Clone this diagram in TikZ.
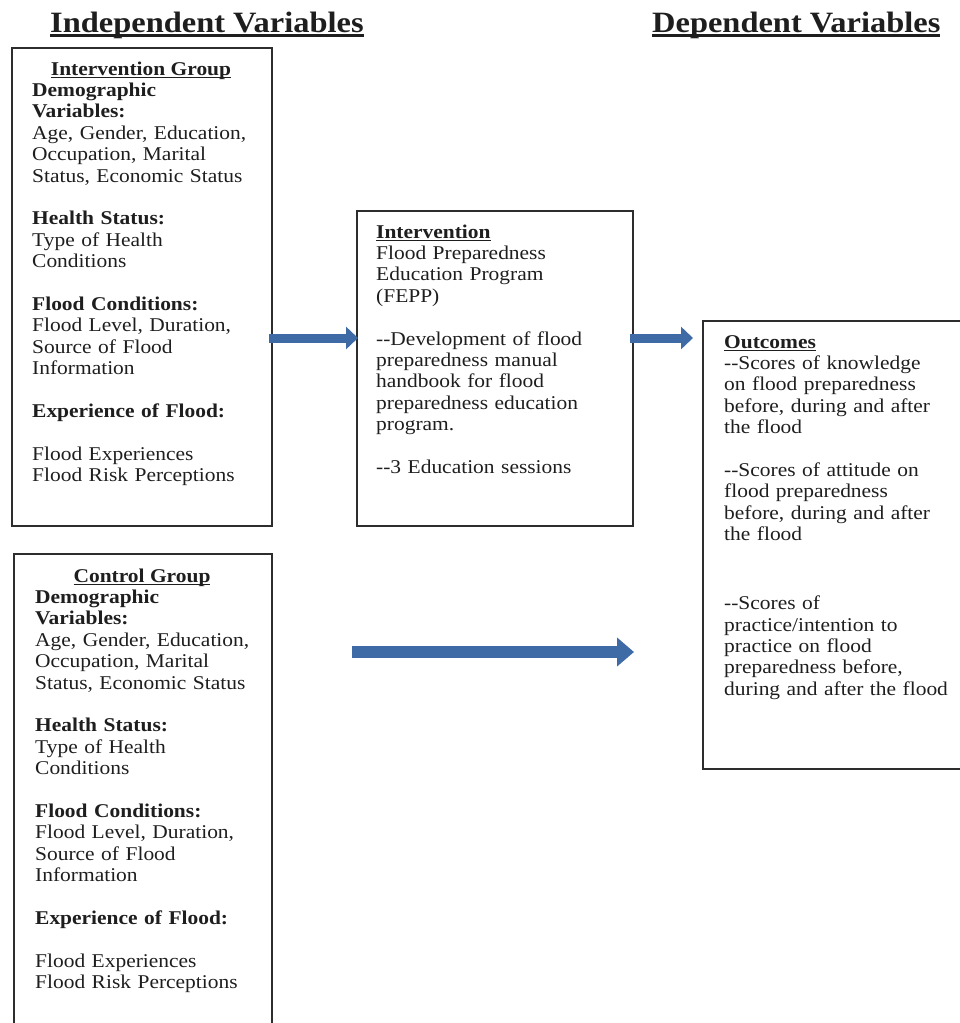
\documentclass[tikz,border=0pt]{standalone}
\usepackage{fontspec}
\setmainfont{Liberation Serif}[FakeStretch=1.1]
\usetikzlibrary{arrows.meta}
\definecolor{arrowblue}{RGB}{62,106,166}
\definecolor{boxline}{RGB}{45,45,45}
\definecolor{txtcol}{RGB}{30,30,30}
\newsavebox\ulsavebox
\newcommand{\ulrule}[3]{\sbox\ulsavebox{#3}\rlap{\rule[-#1]{\wd\ulsavebox}{#2}}\usebox\ulsavebox}
\newcommand{\headul}[1]{\textbf{\ulrule{3.2pt}{1.3pt}{#1}}}
\tikzset{
  boxst/.style={draw=boxline, line width=1.8pt, inner sep=0pt, anchor=north west},
  titlest/.style={font={\fontsize{29.5pt}{32pt}\selectfont\bfseries}, text=txtcol, inner sep=0pt, anchor=base west},
  headst/.style={font={\fontsize{19.5pt}{21.4pt}\selectfont}, text=txtcol, inner sep=0pt, anchor=base},
  bodyst/.style={font={\fontsize{19.5pt}{21.4pt}\selectfont}, text=txtcol, inner sep=0pt, anchor=base west, text width=300pt, align=left},
  thinarrow/.style={draw=arrowblue, line width=9pt, -{Triangle[width=22pt,length=12pt]}},
  thickarrow/.style={draw=arrowblue, line width=12pt, -{Triangle[width=28pt,length=17pt]}}
}
\begin{document}
\begin{tikzpicture}[x=1pt,y=-1pt]
\useasboundingbox (0,0) rectangle (960,1023);
% titles
\node[titlest] (tind) at (50,32) {\ulrule{5pt}{3pt}{Independent Variables}};
\node[titlest] (tdep) at (652,32) {\ulrule{5pt}{3pt}{Dependent Variables}};
% boxes
\node[boxst, minimum width=260pt, minimum height=478pt] (ig) at (11,47) {};
\node[boxst, minimum width=258pt, minimum height=482pt] (cg) at (13,553) {};
\node[boxst, minimum width=276pt, minimum height=315pt] (iv) at (356,210) {};
\node[boxst, minimum width=260pt, minimum height=448pt] (oc) at (702,320) {};
% intervention group
\node[headst] (igh) at (141,75) {\headul{Intervention Group}};
\node[bodyst] (igt) at (32,96.4) {\textbf{Demographic}\\
\textbf{Variables:}\\
Age, Gender, Education,\\
Occupation, Marital\\
Status, Economic Status\\[21.4pt]
\textbf{Health Status:}\\
Type of Health\\
Conditions\\[21.4pt]
\textbf{Flood Conditions:}\\
Flood Level, Duration,\\
Source of Flood\\
Information\\[21.4pt]
\textbf{Experience of Flood:}\\[21.4pt]
Flood Experiences\\
Flood Risk Perceptions};
% control group
\node[headst] (cgh) at (142,582) {\headul{Control Group}};
\node[bodyst] (cgt) at (35,603.4) {\textbf{Demographic}\\
\textbf{Variables:}\\
Age, Gender, Education,\\
Occupation, Marital\\
Status, Economic Status\\[21.4pt]
\textbf{Health Status:}\\
Type of Health\\
Conditions\\[21.4pt]
\textbf{Flood Conditions:}\\
Flood Level, Duration,\\
Source of Flood\\
Information\\[21.4pt]
\textbf{Experience of Flood:}\\[21.4pt]
Flood Experiences\\
Flood Risk Perceptions};
% intervention
\node[bodyst] (ivt) at (376,238) {\headul{Intervention}\\
Flood Preparedness\\
Education Program\\
(FEPP)\\[21.4pt]
-{}-Development of flood\\
preparedness manual\\
handbook for flood\\
preparedness education\\
program.\\[21.4pt]
-{}-3 Education sessions};
% outcomes
\node[bodyst] (oct) at (724,348) {\headul{Outcomes}\\
-{}-Scores of knowledge\\
on flood preparedness\\
before, during and after\\
the flood\\[21.4pt]
-{}-Scores of attitude on\\
flood preparedness\\
before, during and after\\
the flood\\[47.6pt]
-{}-Scores of\\
practice/intention to\\
practice on flood\\
preparedness before,\\
during and after the flood};
% arrows
\coordinate (arow) at (0,338);
\coordinate (a3s) at (352,652);
\coordinate (a3e) at (634,652);
\draw[thinarrow] ([xshift=-4pt]ig.east |- arow) -- ([xshift=2pt]iv.west |- arow);
\draw[thinarrow] ([xshift=-4pt]iv.east |- arow) -- ([xshift=-9pt]oc.west |- arow);
\draw[thickarrow] (a3s) -- (a3e);
\end{tikzpicture}
\end{document}
